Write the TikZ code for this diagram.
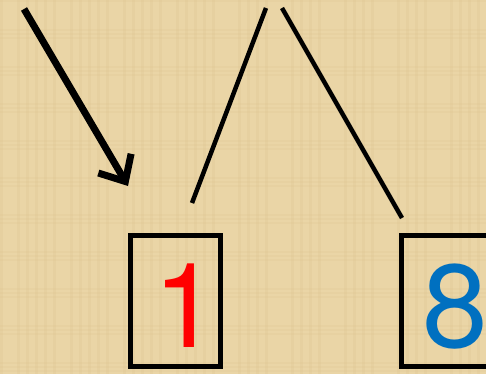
\documentclass[tikz,border=0pt]{standalone}
\usepackage{fontspec}
\setmainfont{TeX Gyre Heros}
\newfontfamily\digfont{TeX Gyre Heros}
\usetikzlibrary{arrows.meta}
\definecolor{parch}{HTML}{EAD5A6}
\definecolor{parchdark}{HTML}{D9BE8A}
\definecolor{digred}{HTML}{FF0000}
\definecolor{digblue}{HTML}{0070C0}
\tikzset{
  boxstyle/.style={draw=black,line width=5pt,inner sep=0pt},
  digit/.style={font=\digfont\fontsize{118}{118}\selectfont,inner sep=0pt,anchor=base west},
  thinline/.style={line width=4.5pt},
  bigarrow/.style={line width=7pt,-{Straight Barb[length=21pt,width=38pt,line width=7pt]}}
}
\begin{document}
\begin{tikzpicture}[x=1pt,y=-1pt]
\useasboundingbox (0,0) rectangle (486,374);
\clip (0,0) rectangle (486,374);
\fill[parch] (0,0) rectangle (486,374);
% subtle texture
\foreach \i in {0,...,40}{
  \pgfmathsetmacro{\xx}{mod(\i*53,486)}
  \fill[parchdark,opacity=0.18] (\xx,0) rectangle (\xx+3,374);
}
\foreach \i in {0,...,30}{
  \pgfmathsetmacro{\yy}{mod(\i*37,374)}
  \fill[parchdark,opacity=0.15] (0,\yy) rectangle (486,\yy+2);
}
\node[boxstyle,minimum width=90pt,minimum height=131pt] (box1) at (175,301) {};
\node[boxstyle,minimum width=110pt,minimum height=131pt] (box8) at (456.5,301) {};
\node[digit,text=digred] (d1) at (153,347) {1};
\node[digit,text=digblue] (d8) at (422,347) {8};
\coordinate (a0) at (24,9);
\coordinate (a1) at (128,186);
\coordinate (l1a) at (192,203);
\coordinate (l1b) at (266,8);
\coordinate (l2a) at (282,8);
\coordinate (l2b) at (402,218);
\draw[bigarrow] (a0) -- (a1);
\draw[thinline] (l1a) -- (l1b);
\draw[thinline] (l2a) -- (l2b);
\end{tikzpicture}
\end{document}
